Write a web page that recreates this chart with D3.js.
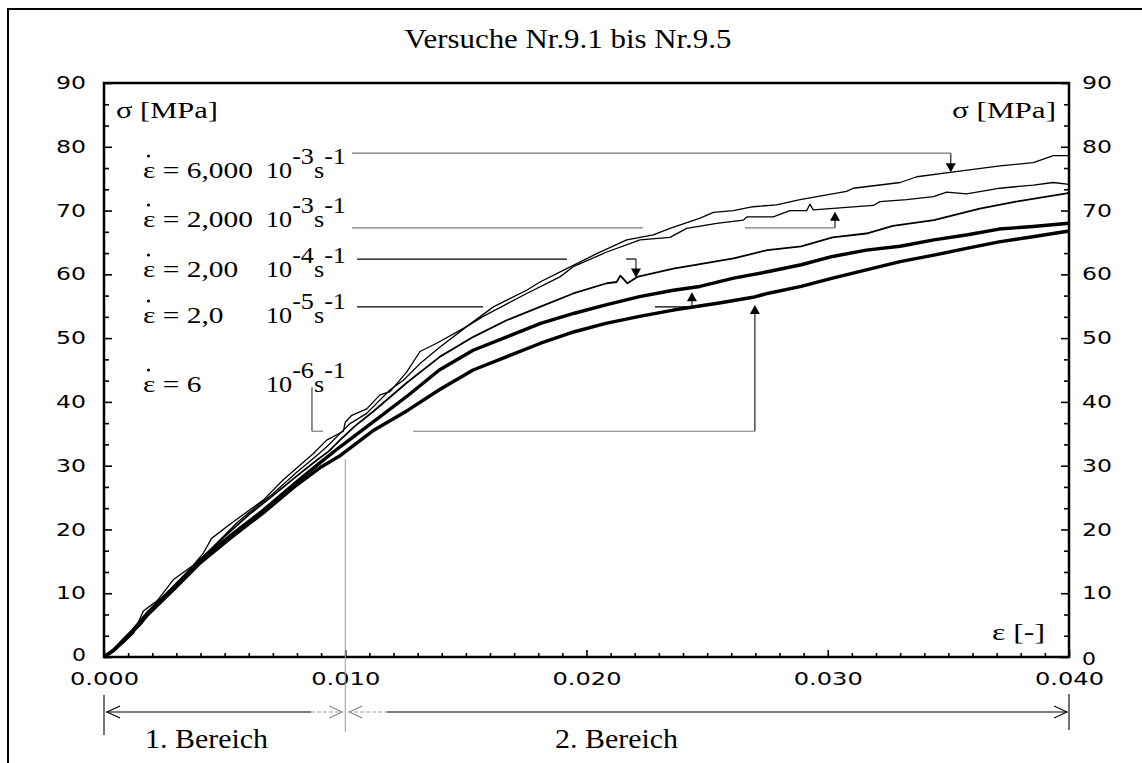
<!DOCTYPE html>
<html>
<head>
<meta charset="utf-8">
<script src="https://cdn.jsdelivr.net/npm/d3@7"></script>
<style>
  html, body { margin: 0; padding: 0; background: #fff; }
  svg { display: block; }
  .serif { font-family: "Liberation Serif", "Times New Roman", serif; fill: #000; }
  .tick text { font-family: "DejaVu Sans", sans-serif; font-size: 17.5px; fill: #000; }
</style>
</head>
<body>
<div id="chart"></div>
<script>
// strain [-] / stress [MPa], one array per test
let eps_6e3 = [0, 0.0004, 0.0008, 0.00122, 0.00163, 0.0022, 0.00287, 0.0037, 0.00412, 0.00446, 0.00529, 0.0066, 0.00743, 0.00868, 0.00923, 0.00992, 0.0100, 0.01027, 0.01089, 0.01144, 0.01186, 0.01255, 0.0131, 0.01379, 0.01503, 0.01614, 0.01752, 0.01807, 0.01918, 0.0204, 0.02167, 0.02277, 0.02346, 0.02471, 0.02526, 0.02608, 0.02691, 0.02788, 0.02885, 0.03078, 0.03106, 0.0330, 0.03369, 0.03507, 0.03714, 0.03852, 0.03935, 0.0400];
let sig_6e3 = [0, 1.0, 2.2, 3.7, 7.2, 8.8, 12.1, 14.4, 16.3, 18.6, 21.0, 24.6, 27.8, 31.9, 34.0, 35.4, 36.8, 37.9, 38.9, 41.1, 41.6, 44.7, 47.9, 49.2, 51.8, 54.9, 57.5, 58.8, 60.9, 63.2, 65.4, 66.2, 67.2, 68.8, 69.7, 70.0, 70.6, 70.9, 71.7, 73.0, 73.5, 74.4, 75.3, 76.0, 77.0, 77.5, 78.6, 78.6];

let eps_2e3 = [0, 0.0005, 0.001, 0.0015, 0.002, 0.0025, 0.003, 0.0035, 0.004, 0.0045, 0.005, 0.0055, 0.006, 0.007, 0.008, 0.0088, 0.0093, 0.0098, 0.0102, 0.01089, 0.01186, 0.01241, 0.0131, 0.01393, 0.01503, 0.01572, 0.01752, 0.0189, 0.01945, 0.02084, 0.02222, 0.02346, 0.02415, 0.0254, 0.0265, 0.02664, 0.02774, 0.02843, 0.02913, 0.02926, 0.0294, 0.03009, 0.03189, 0.03217, 0.03327, 0.03438, 0.03493, 0.03576, 0.03714, 0.03852, 0.03935, 0.0400];
let sig_2e3 = [0, 1.3, 3.0, 5.2, 7.6, 9.6, 11.6, 13.4, 15.4, 17.2, 19.1, 21.0, 22.6, 25.6, 29.0, 31.5, 33.2, 35.1, 36.6, 38.2, 41.9, 43.4, 46.0, 48.6, 51.8, 53.4, 57.0, 59.6, 61.2, 63.5, 65.4, 65.8, 67.2, 68.0, 68.5, 69.0, 69.0, 70.0, 70.0, 71.0, 70.1, 70.3, 70.8, 71.4, 71.7, 72.2, 72.9, 72.6, 73.5, 74.0, 74.4, 74.1];

let eps_2e4 = [0, 0.0005, 0.001, 0.0015, 0.002, 0.0025, 0.003, 0.0035, 0.004, 0.0045, 0.005, 0.0055, 0.006, 0.007, 0.008, 0.0088, 0.0093, 0.00978, 0.0104, 0.01116, 0.01255, 0.01393, 0.01531, 0.01669, 0.01807, 0.01945, 0.02084, 0.02125, 0.0214, 0.0217, 0.0221, 0.0236, 0.0247, 0.0261, 0.0275, 0.0289, 0.0302, 0.0316, 0.0327, 0.0344, 0.0363, 0.0378, 0.0399, 0.0400];
let sig_2e4 = [0, 1.2, 3.2, 5.0, 7.4, 9.4, 11.3, 13.5, 15.2, 17.0, 18.9, 20.6, 22.3, 25.3, 28.4, 30.8, 32.2, 34.0, 36.2, 38.5, 43.0, 47.1, 50.2, 52.8, 54.9, 57.0, 58.6, 58.8, 59.8, 58.6, 59.6, 60.9, 61.6, 62.5, 63.8, 64.4, 65.8, 66.4, 67.6, 68.5, 70.3, 71.4, 72.7, 72.8];

let eps_2e5 = [0, 0.0004, 0.0012, 0.0018, 0.0029, 0.004, 0.0052, 0.0066, 0.008, 0.009, 0.0098, 0.0112, 0.0126, 0.0139, 0.0153, 0.0167, 0.0181, 0.0195, 0.0208, 0.0222, 0.0236, 0.0247, 0.0261, 0.0275, 0.0289, 0.0302, 0.0316, 0.033, 0.0344, 0.0358, 0.0371, 0.0385, 0.0400];
let sig_2e5 = [0, 1.1, 4.2, 6.9, 11.0, 15.2, 18.9, 23.0, 27.5, 30.6, 33.0, 37.0, 41.0, 45.0, 48.1, 50.2, 52.3, 53.9, 55.2, 56.5, 57.5, 58.1, 59.4, 60.4, 61.5, 62.8, 63.8, 64.4, 65.4, 66.2, 67.1, 67.5, 68.0];

let eps_6e6 = [0, 0.0004, 0.0012, 0.0018, 0.0029, 0.004, 0.0052, 0.0066, 0.008, 0.009, 0.0098, 0.0112, 0.0126, 0.0139, 0.0153, 0.0167, 0.0181, 0.0195, 0.0208, 0.0222, 0.0236, 0.0255, 0.0269, 0.0275, 0.0289, 0.0302, 0.0316, 0.033, 0.0344, 0.0358, 0.0371, 0.0385, 0.0400];
let sig_6e6 = [0, 1.0, 4.0, 6.6, 10.6, 14.8, 18.5, 22.6, 27.0, 29.8, 31.6, 35.6, 38.7, 41.9, 45.0, 47.1, 49.2, 51.0, 52.3, 53.4, 54.4, 55.5, 56.4, 57.0, 58.1, 59.4, 60.7, 62.0, 63.0, 64.1, 65.1, 65.9, 66.8];

// legend texts (rate mantissa, exponent)
let rate_values = ['6,000', '2,000', '2,00', '2,0', '6'];
let rate_exponents = ['-3', '-3', '-4', '-5', '-6'];

let y_ticks = d3.range(0, 91, 10);
let x_ticks = [0, 0.01, 0.02, 0.03, 0.04];

let width = 1142;
let height = 763;

let x = d3.scaleLinear().domain([0, 0.04]).range([104, 1069]);
let y = d3.scaleLinear().domain([0, 90]).range([657, 83]);

let svg = d3.select('#chart').append('svg')
            .attr('width', width)
            .attr('height', height);

svg.append('rect').attr('width', width).attr('height', height).attr('fill', '#fff');

// outer frame (left and top only)
svg.append('path')
    .attr('d', 'M8,763 L8,9 L1142,9')
    .attr('fill', 'none').attr('stroke', '#000').attr('stroke-width', 2);

// helper: place serif text and stretch it horizontally to a given width
let fitText = (g, w) => {
    let t = g.select('text').node();
    let len = t.getComputedTextLength();
    let tr = g.attr('transform');
    g.attr('transform', tr + ` scale(${w / len},1)`);
    return w / len;
};
let serif = (px, py, size, str, anchor) => {
    let g = svg.append('g').attr('transform', `translate(${px},${py})`);
    g.append('text').attr('class', 'serif')
        .attr('font-size', size)
        .attr('text-anchor', anchor || 'start')
        .text(str);
    return g;
};

// title
fitText(serif(568, 48, 27, 'Versuche Nr.9.1 bis Nr.9.5', 'middle'), 327);

// axes
let minorY = d3.range(0, 90.01, 10 / 3).filter(v => Math.abs(v / 10 - Math.round(v / 10)) > 0.01);
let minorX = d3.range(0, 0.0401, 0.001).filter(v => Math.abs(v * 100 - Math.round(v * 100)) > 0.01);

let axL = svg.append('g').attr('transform', `translate(${x(0)},0)`)
    .call(d3.axisLeft(y).tickValues(y_ticks).tickSize(-8).tickPadding(18).tickFormat(d3.format('d')));
let axR = svg.append('g').attr('transform', `translate(${x(0.04)},0)`)
    .call(d3.axisRight(y).tickValues(y_ticks).tickSize(-8).tickPadding(13).tickFormat(d3.format('d')));
svg.append('g').attr('transform', `translate(${x(0)},0)`)
    .call(d3.axisLeft(y).tickValues(minorY).tickSize(-5).tickFormat(''));
svg.append('g').attr('transform', `translate(${x(0.04)},0)`)
    .call(d3.axisRight(y).tickValues(minorY).tickSize(-5).tickFormat(''));
let axB = svg.append('g').attr('transform', `translate(0,${y(0)})`)
    .call(d3.axisBottom(x).tickValues(x_ticks).tickSize(-7).tickPadding(16).tickFormat(d3.format('.3f')));
svg.append('g').attr('transform', `translate(0,${y(0)})`)
    .call(d3.axisBottom(x).tickValues(minorX).tickSize(-4).tickFormat(''));

svg.selectAll('.domain').remove();
svg.selectAll('.tick line').attr('stroke', '#000').attr('stroke-width', 1.6);

[axL, axR].forEach(ax => ax.selectAll('.tick text')
    .attr('textLength', d => d === 0 ? 14 : 30)
    .attr('lengthAdjust', 'spacingAndGlyphs'));
axL.selectAll('.tick text').filter(d => d === 0).attr('dy', '0.22em');
axR.selectAll('.tick text').filter(d => d === 0).attr('dy', '0.4em');
axB.selectAll('.tick text')
    .attr('textLength', 69)
    .attr('lengthAdjust', 'spacingAndGlyphs');

// plot frame
svg.append('rect')
    .attr('x', x(0)).attr('y', y(90))
    .attr('width', x(0.04) - x(0)).attr('height', y(0) - y(90))
    .attr('fill', 'none').attr('stroke', '#000').attr('stroke-width', 2.5);

// axis titles
fitText(serif(116, 118, 24, 'σ [MPa]'), 102);
fitText(serif(1056, 118, 24, 'σ [MPa]', 'end'), 104);
fitText(serif(992, 640, 24, 'ε [-]'), 53);

// grey marker at 0.010
svg.append('line')
    .attr('x1', x(0.01)).attr('x2', x(0.01))
    .attr('y1', y(31)).attr('y2', 732)
    .attr('stroke', '#9a9a9a').attr('stroke-width', 1);

// curves
let series = [
    {eps: eps_6e3, sig: sig_6e3, w: 1.3},
    {eps: eps_2e3, sig: sig_2e3, w: 1.3},
    {eps: eps_2e4, sig: sig_2e4, w: 1.8},
    {eps: eps_2e5, sig: sig_2e5, w: 3.4},
    {eps: eps_6e6, sig: sig_6e6, w: 3.4}
];
let line = d3.line().x(d => x(d[0])).y(d => y(d[1]));
svg.append('g').selectAll('path')
    .data(series)
    .join('path')
        .attr('d', s => line(s.eps.map((e, i) => [e, s.sig[i]])))
        .attr('fill', 'none')
        .attr('stroke', '#000')
        .attr('stroke-linejoin', 'round')
        .attr('stroke-width', s => s.w);

// legend rows
let row_base = [178, 227, 277, 323, 392];
let k = null;
rate_values.forEach((v, i) => {
    let g = serif(143, row_base[i], 23, 'ε = ' + v);
    if (k === null) k = fitText(g, 110);
    else g.attr('transform', g.attr('transform') + ` scale(${k},1)`);
    svg.append('circle').attr('cx', 148.5).attr('cy', row_base[i] - 22).attr('r', 1.5).attr('fill', '#000');

    let g2 = svg.append('g').attr('transform', `translate(266,${row_base[i]})`);
    let t = g2.append('text').attr('class', 'serif').attr('font-size', 23);
    t.append('tspan').text('10');
    t.append('tspan').attr('dy', -14).text(rate_exponents[i]);
    t.append('tspan').attr('dy', 14).text('s');
    t.append('tspan').attr('dy', -14).text('-1');
    fitText(g2, 80);
});

// leader lines with arrows (data coordinates)
let lead = svg.append('g').attr('fill', 'none').attr('stroke-width', 1.2);
let hline = (x1, x2, v, col) => lead.append('line')
    .attr('x1', x(x1)).attr('x2', x(x2)).attr('y1', y(v)).attr('y2', y(v)).attr('stroke', col);
let arrow = (xv, from, to) => {
    let px = x(xv), p0 = y(from), p1 = y(to);
    let dir = p1 > p0 ? 1 : -1;
    lead.append('line').attr('x1', px).attr('x2', px).attr('y1', p0).attr('y2', p1 - dir * 8)
        .attr('stroke', '#222');
    svg.append('path')
        .attr('d', `M${px},${p1} L${px - 5},${p1 - dir * 9} L${px + 5},${p1 - dir * 9} Z`)
        .attr('fill', '#000');
};

hline(0.01028, 0.0351, 79.0, '#7a7a7a');
arrow(0.0351, 79.0, 76.0);

hline(0.01028, 0.02234, 67.3, '#7a7a7a');
hline(0.02657, 0.0303, 67.3, '#7a7a7a');
arrow(0.0303, 67.3, 69.8);

hline(0.01049, 0.01919, 62.4, '#000');
hline(0.02164, 0.02205, 62.4, '#000');
arrow(0.02205, 62.4, 59.5);

hline(0.01049, 0.01571, 54.9, '#000');
hline(0.02284, 0.02437, 54.9, '#000');
arrow(0.02437, 54.9, 57.2);

lead.append('line').attr('x1', x(0.00862)).attr('x2', x(0.00862))
    .attr('y1', y(42.3)).attr('y2', y(35.4)).attr('stroke', '#444');
hline(0.00862, 0.00908, 35.4, '#7a7a7a');
hline(0.01281, 0.02698, 35.4, '#7a7a7a');
arrow(0.02698, 35.4, 55.2);

// range markers below the axis
let by = 712;
let rng = svg.append('g').attr('fill', 'none').attr('stroke-width', 1.1);
rng.append('line').attr('x1', x(0)).attr('x2', x(0)).attr('y1', 695).attr('y2', 735).attr('stroke', '#000');
rng.append('line').attr('x1', x(0.04)).attr('x2', x(0.04)).attr('y1', 694).attr('y2', 730).attr('stroke', '#000');
rng.append('line').attr('x1', x(0) + 2).attr('x2', 311).attr('y1', by).attr('y2', by).attr('stroke', '#000');
rng.append('line').attr('x1', 311).attr('x2', x(0.01) - 3).attr('y1', by).attr('y2', by)
    .attr('stroke', '#999').attr('stroke-dasharray', '4,2');
rng.append('line').attr('x1', x(0.01) + 3).attr('x2', 387).attr('y1', by).attr('y2', by)
    .attr('stroke', '#999').attr('stroke-dasharray', '4,2');
rng.append('line').attr('x1', 387).attr('x2', x(0.04) - 2).attr('y1', by).attr('y2', by).attr('stroke', '#000');
let head = (px, dir, col) => rng.append('path')
    .attr('d', `M${px + dir * 13},${by - 6} L${px},${by} L${px + dir * 13},${by + 6}`)
    .attr('stroke', col);
head(x(0) + 3, 1, '#000');
head(x(0.01) - 3, -1, '#888');
head(x(0.01) + 4, 1, '#888');
head(x(0.04) - 2, -1, '#000');

fitText(serif(145, 748, 27, '1. Bereich'), 123);
fitText(serif(555, 748, 27, '2. Bereich'), 123);
</script>
</body>
</html>
